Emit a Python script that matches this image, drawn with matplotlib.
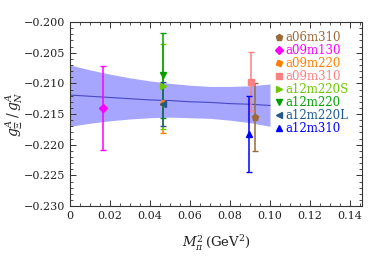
import matplotlib
matplotlib.use("Agg")
import matplotlib.pyplot as plt
from matplotlib.ticker import MultipleLocator, FixedFormatter, FixedLocator

plt.rcParams['font.family'] = ['DejaVu Serif']
plt.rcParams['mathtext.fontset'] = 'dejavuserif'

# ensembles
labels = ["a06m310", "a09m130", "a09m220", "a09m310",
          "a12m220S", "a12m220", "a12m220L", "a12m310"]
mpi2 = [0.0925, 0.0167, 0.0463, 0.0903, 0.0467, 0.0467, 0.0465, 0.0893]
ratio = [-0.2155, -0.2140, -0.2132, -0.2097, -0.2105, -0.2087, -0.2133, -0.2182]
err = [0.0056, 0.0068, 0.0049, 0.0048, 0.0069, 0.0069, 0.0036, 0.0062]
colors = ["#9c6a38", "#ff00ff", "#ff8000", "#ff8080",
          "#6cc800", "#00a000", "#1f5a8a", "#0000ff"]
markers = ["p", "D", (4, 0, 25), "s", ">", "v", "<", "^"]
msizes = [5, 4, 5, 4.5, 4.5, 5, 4.5, 4.5]

# fit band
band_x = [0.0, 0.01, 0.02, 0.03, 0.04, 0.05, 0.06, 0.07, 0.08, 0.09, 0.10]
band_up = [-0.2070, -0.2078, -0.2085, -0.2091, -0.2096, -0.2100, -0.2103,
           -0.2105, -0.2105, -0.2104, -0.2101]
band_lo = [-0.2170, -0.2165, -0.2161, -0.2158, -0.2156, -0.2155, -0.2156,
           -0.2157, -0.2160, -0.2164, -0.2170]
band_mid = [-0.2119, -0.2121, -0.2123, -0.2125, -0.2127, -0.2128, -0.2130,
            -0.2131, -0.2133, -0.2134, -0.2136]

xticks = [0, 0.02, 0.04, 0.06, 0.08, 0.10, 0.12, 0.14]
xticklabels = ["0", "0.02", "0.04", "0.06", "0.08", "0.10", "0.12", "0.14"]
yticks = [-0.230, -0.225, -0.220, -0.215, -0.210, -0.205, -0.200]
yticklabels = ["\u22120.230", "\u22120.225", "\u22120.220", "\u22120.215",
               "\u22120.210", "\u22120.205", "\u22120.200"]

fig = plt.figure(figsize=(3.74, 2.56), dpi=100)
ax = fig.add_axes([0.187, 0.195, 0.781, 0.719])

ax.fill_between(band_x, band_lo, band_up, color="#a6a6ff", lw=0, zorder=1)
ax.plot(band_x, band_mid, color="#4848c8", lw=0.8, zorder=2)

handles = []
for i in range(len(labels)):
    ax.errorbar(mpi2[i], ratio[i], yerr=err[i], color=colors[i], lw=1.1,
                capsize=2.2, capthick=1.0, fmt='none', zorder=3)
    h, = ax.plot(mpi2[i], ratio[i], marker=markers[i], color=colors[i],
                 ms=msizes[i], ls='none', zorder=4, label=labels[i])
    handles.append(h)

ax.set_xlim(0, 0.146)
ax.set_ylim(-0.230, -0.200)
ax.xaxis.set_major_locator(FixedLocator(xticks))
ax.xaxis.set_major_formatter(FixedFormatter(xticklabels))
ax.yaxis.set_major_locator(FixedLocator(yticks))
ax.yaxis.set_major_formatter(FixedFormatter(yticklabels))
ax.xaxis.set_minor_locator(MultipleLocator(0.005))
ax.yaxis.set_minor_locator(MultipleLocator(0.001))
ax.tick_params(which='both', direction='in', top=True, right=True,
               labelsize=8, colors='#333333', labelcolor='#222222')
ax.tick_params(which='major', length=4, width=0.7)
ax.tick_params(which='minor', length=2, width=0.6)
for s in ax.spines.values():
    s.set_color('#333333')
    s.set_linewidth(0.8)

ax.set_xlabel(r"$M_\pi^2\,$(GeV$^2$)", fontsize=9.5, color='#222222', labelpad=9)
ax.set_ylabel(r"$g_\Xi^A\,/\,g_N^A$", fontsize=10, color='#222222')
ax.yaxis.set_label_coords(-0.155, 0.5)

leg = ax.legend(handles=handles, loc='upper left', bbox_to_anchor=(0.688, 0.978),
                frameon=False, fontsize=8.5, handlelength=0.5, handletextpad=0.3,
                labelspacing=0.0, borderaxespad=0, labelcolor=colors,
                markerscale=1.0)

fig.savefig("out.png", dpi=100)
